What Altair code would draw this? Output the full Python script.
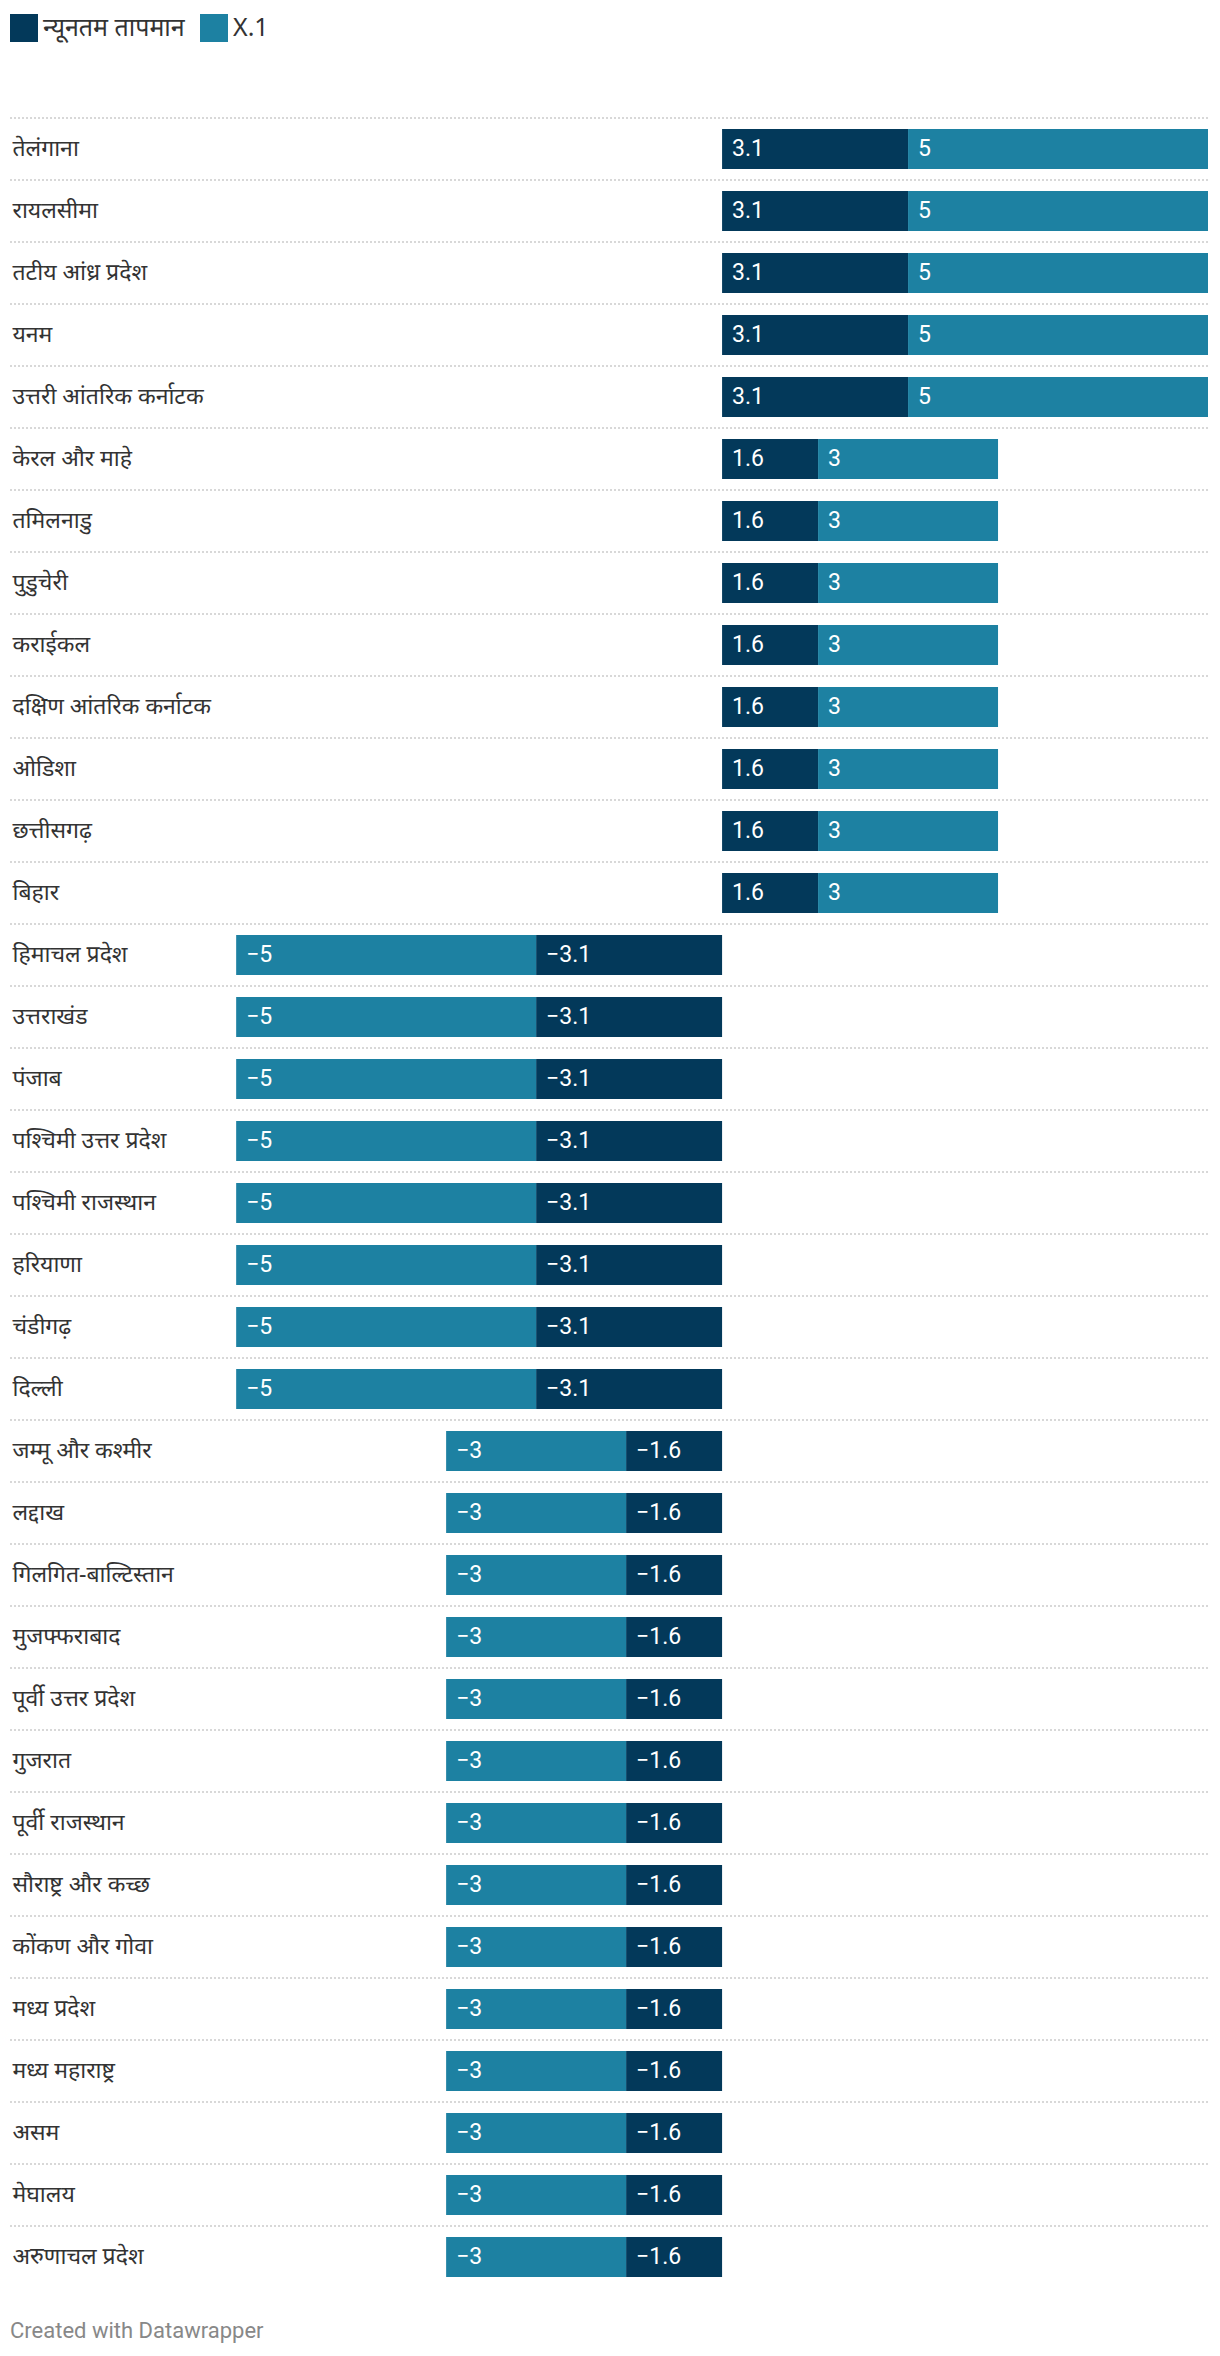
import altair as alt
import pandas as pd

regions = [
    "तेलंगाना", "रायलसीमा", "तटीय आंध्र प्रदेश", "यनम", "उत्तरी आंतरिक कर्नाटक",
    "केरल और माहे", "तमिलनाडु", "पुडुचेरी", "कराईकल", "दक्षिण आंतरिक कर्नाटक",
    "ओडिशा", "छत्तीसगढ़", "बिहार",
    "हिमाचल प्रदेश", "उत्तराखंड", "पंजाब", "पश्चिमी उत्तर प्रदेश", "पश्चिमी राजस्थान",
    "हरियाणा", "चंडीगढ़", "दिल्ली",
    "जम्मू और कश्मीर", "लद्दाख", "गिलगित-बाल्टिस्तान", "मुजफ्फराबाद", "पूर्वी उत्तर प्रदेश",
    "गुजरात", "पूर्वी राजस्थान", "सौराष्ट्र और कच्छ", "कोंकण और गोवा", "मध्य प्रदेश",
    "मध्य महाराष्ट्र", "असम", "मेघालय", "अरुणाचल प्रदेश",
]
min_temp = [
    3.1, 3.1, 3.1, 3.1, 3.1,
    1.6, 1.6, 1.6, 1.6, 1.6, 1.6, 1.6, 1.6,
    -3.1, -3.1, -3.1, -3.1, -3.1, -3.1, -3.1, -3.1,
    -1.6, -1.6, -1.6, -1.6, -1.6, -1.6, -1.6, -1.6, -1.6, -1.6, -1.6, -1.6, -1.6, -1.6,
]
x1_vals = [
    5, 5, 5, 5, 5,
    3, 3, 3, 3, 3, 3, 3, 3,
    -5, -5, -5, -5, -5, -5, -5, -5,
    -3, -3, -3, -3, -3, -3, -3, -3, -3, -3, -3, -3, -3, -3,
]
series = ["न्यूनतम तापमान", "X.1"]
colors = ["#03395a", "#1d81a2"]

rows = []
for i, r in enumerate(regions):
    for k, vals in enumerate([min_temp, x1_vals]):
        v = vals[i]
        rows.append({
            "region": r,
            "series": series[k],
            "value": v,
            "order": k,
            "label": f"{v:g}".replace("-", "\u2212"),
        })
df = pd.DataFrame(rows)

LABEL_FONT = "Noto Sans"
NUM_FONT = "Roboto"

yscale = alt.Scale(paddingInner=0, paddingOuter=0)
xscale = alt.Scale(domain=[-11.87, 8.1], nice=False, zero=False)
yaxis = alt.Axis(
    orient="left", title=None, labelAlign="left", labelPadding=-2, ticks=False, tickSize=0,
    domain=False, grid=False, labelFont=LABEL_FONT, labelFontSize=23,
    labelColor="#333333", labelBaseline="middle", labelLimit=600, labelOverlap=False,
)

base = alt.Chart(df).transform_stack(
    stack="value", groupby=["region"], as_=["v0", "v1"],
    sort=[alt.SortField(field="order", order="ascending")],
).transform_calculate(lo="min(datum.v0, datum.v1)")

bars = base.mark_bar(size=40).encode(
    x=alt.X("v0:Q", scale=xscale, axis=None),
    x2="v1:Q",
    y=alt.Y("region:N", sort=regions, title=None, scale=yscale, axis=yaxis),
    color=alt.Color(
        "series:N",
        scale=alt.Scale(domain=series, range=colors),
        legend=alt.Legend(
            title=None, orient="none", legendX=0, legendY=-104, direction="horizontal",
            symbolType="square", symbolSize=784, symbolStrokeWidth=0, padding=0,
            labelFont=LABEL_FONT, labelFontSize=25, labelColor="#333333",
            labelOffset=5, columnPadding=15,
        ),
    ),
)

labels = base.mark_text(
    align="left", baseline="middle", dx=10, color="white", font=NUM_FONT, fontSize=23
).encode(
    x=alt.X("lo:Q", scale=xscale, axis=None),
    y=alt.Y("region:N", sort=regions, title=None, scale=yscale, axis=yaxis),
    text="label:N",
)

grid = alt.Chart(pd.DataFrame({"region": regions})).mark_rule(
    strokeDash=[2, 2], color="#cccccc", strokeWidth=1.5
).encode(
    y=alt.Y("region:N", sort=regions, title=None, scale=yscale, axis=yaxis, bandPosition=0),
    x=alt.value(0),
    x2=alt.value("width"),
)

chart = alt.layer(bars, labels, grid).properties(
    width=1198,
    height=2170,
    autosize=alt.AutoSizeParams(type="none"),
    padding={"left": 2, "top": 110, "right": 4, "bottom": 60},
    title=alt.TitleParams(
        "Created with Datawrapper", orient="bottom", anchor="start", font=NUM_FONT,
        fontSize=22, fontWeight="normal", color="#888888", offset=33, frame="group",
    ),
).configure_view(stroke=None)

chart.save("out.html", embed_options={"renderer": "svg", "actions": False})
